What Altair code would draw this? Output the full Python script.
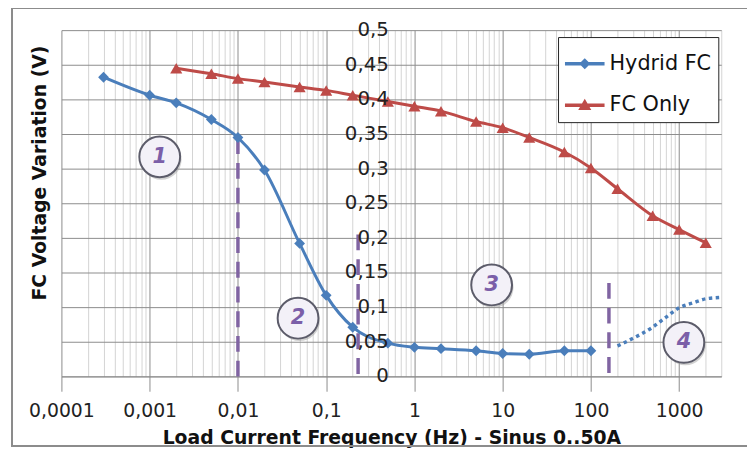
import altair as alt
import pandas as pd

# ---------------- data ----------------
series_names = ["Hydrid FC", "FC Only"]
series_colors = ["#4A7EBB", "#BE4B48"]

hyb_x = [0.0003, 0.001, 0.002, 0.005, 0.01, 0.02, 0.05, 0.1, 0.2, 0.5, 1, 2, 5, 10, 20, 50, 100]
hyb_y = [0.432, 0.406, 0.395, 0.371, 0.345, 0.298, 0.192, 0.117, 0.071, 0.048, 0.042, 0.040, 0.037,
         0.033, 0.032, 0.037, 0.037]

fc_x = [0.002, 0.005, 0.01, 0.02, 0.05, 0.1, 0.2, 0.5, 1, 2, 5, 10, 20, 50, 100, 200, 500, 1000, 2000]
fc_y = [0.445, 0.437, 0.430, 0.425, 0.418, 0.413, 0.406, 0.397, 0.390, 0.383, 0.368, 0.359, 0.345,
        0.324, 0.301, 0.271, 0.232, 0.212, 0.193]

ext_x = [200, 300, 500, 700, 1000, 1500, 2000, 3000]
ext_y = [0.044, 0.055, 0.071, 0.085, 0.099, 0.107, 0.112, 0.114]

zone_line_x = [0.01, 0.23, 160]
zone_line_top = [0.344, 0.205, 0.135]

zone_num = ["1", "2", "3", "4"]
zone_x = [0.0013, 0.048, 7.5, 1130]
zone_y = [0.317, 0.084, 0.132, 0.049]

x_decades = [0.0001, 0.001, 0.01, 0.1, 1, 10, 100, 1000]
x_decade_labels = ["0,0001", "0,001", "0,01", "0,1", "1", "10", "100", "1000"]
x_minor = [float(f"{k}e{d}") for d in range(-4, 4) for k in range(1, 10) if float(f"{k}e{d}") <= 3000]

y_ticks = [0, 0.05, 0.1, 0.15, 0.2, 0.25, 0.3, 0.35, 0.4, 0.45, 0.5]
y_tick_labels = ["0", "0,05", "0,1", "0,15", "0,2", "0,25", "0,3", "0,35", "0,4", "0,45", "0,5"]

x_title = "Load Current Frequency (Hz) - Sinus 0..50A"
y_title = "FC Voltage Variation (V)"

# ---------------- tables ----------------
df_main = pd.concat([
    pd.DataFrame({"series": series_names[0], "x": hyb_x, "y": hyb_y}),
    pd.DataFrame({"series": series_names[1], "x": fc_x, "y": fc_y}),
], ignore_index=True)
df_ext = pd.DataFrame({"x": ext_x, "y": ext_y})
df_vl = pd.DataFrame({"x": zone_line_x, "y": zone_line_top, "bottom": [0] * len(zone_line_x)})
df_zone = pd.DataFrame({"x": zone_x, "y": zone_y, "n": zone_num})
df_yt = pd.DataFrame({"y": y_ticks, "lab": y_tick_labels})
df_leg = pd.DataFrame({"series": series_names, "x": [1, 1], "y": [0.1, 0.1]})

FONT = "DejaVu Sans"
W, H = 667, 350

xscale = alt.Scale(type="log", domain=[0.0001, 3000], nice=False)
yscale = alt.Scale(domain=[0, 0.5], nice=False)
cscale = alt.Scale(domain=series_names, range=series_colors)

dec_list = "[" + ",".join(repr(v) for v in x_decades) + "]"
is_dec = f"indexof({dec_list}, datum.value) >= 0"
label_expr = " : ".join(f"datum.value == {v!r} ? '{l}'" for v, l in zip(x_decades, x_decade_labels)) + " : ''"

x_axis = alt.Axis(
    values=x_minor, grid=True,
    gridColor={"condition": {"test": is_dec, "value": "#8c8c8c"}, "value": "#d3d3d3"},
    tickColor={"condition": {"test": is_dec, "value": "#8c8c8c"}, "value": "transparent"},
    tickSize=15, labelExpr=label_expr, labelOverlap=False, labelFlush=False,
    labelFont=FONT, labelFontSize=19, labelColor="#222222", labelPadding=11,
    domainColor="#8c8c8c",
    title=x_title, titleFont=FONT, titleFontSize=19, titleFontWeight="bold",
    titleColor="#111111", titlePadding=8,
)
y_axis = alt.Axis(
    values=y_ticks, grid=True, gridColor="#8c8c8c", labels=False, ticks=False, domain=False,
    title=y_title, titleFont=FONT, titleFontSize=19, titleFontWeight="bold", titleColor="#111111",
    titlePadding=12, titleY=144,
)

leg_paths = [
    "M-1,-0.09H1V0.09H-1Z M0,-0.28L0.28,0L0,0.28L-0.28,0Z",
    "M-1,-0.09H1V0.09H-1Z M0,-0.33L0.33,0.24L-0.33,0.24Z",
]
legend_def = alt.Legend(
    title=None, orient="none", legendX=502, legendY=7, direction="vertical",
    strokeColor="#222222", fillColor="white", padding=7, rowPadding=12,
    symbolSize=1600, symbolStrokeWidth=0, labelFont=FONT, labelFontSize=21, labelColor="#111111",
    labelOffset=5, cornerRadius=0,
)


def X(field="x:Q"):
    return alt.X(field, scale=xscale, axis=x_axis)


def Y(field="y:Q"):
    return alt.Y(field, scale=yscale, axis=y_axis)


def C():
    return alt.Color("series:N", scale=cscale, legend=legend_def)


# grid / axes carrier
base = alt.Chart(df_main).mark_point(opacity=0).encode(x=X(), y=Y())

vlines = alt.Chart(df_vl).mark_rule(color="#8064A2", strokeWidth=3.5, strokeDash=[16, 9]).encode(
    x=X(), y=Y(), y2="bottom:Q",
)

lines = alt.Chart(df_main).mark_line(strokeWidth=3, interpolate="monotone").encode(
    x=X(), y=Y(), color=C(), detail="series:N",
)

ext = alt.Chart(df_ext).mark_line(strokeWidth=3.5, strokeDash=[3.5, 3.5], interpolate="monotone",
                                  color="#4A7EBB").encode(x=X(), y=Y())

pts_h = alt.Chart(df_main).transform_filter(alt.datum.series == series_names[0]).mark_point(
    shape="diamond", filled=True, size=120, opacity=1).encode(x=X(), y=Y(), color=C())
pts_f = alt.Chart(df_main).transform_filter(alt.datum.series == series_names[1]).mark_point(
    shape="triangle-up", filled=True, size=150, opacity=1).encode(x=X(), y=Y(), color=C())

zone_shadow = alt.Chart(df_zone).mark_point(shape="circle", filled=True, size=1700, color="#9a9a9a",
                                            opacity=0.45, xOffset=1.5, yOffset=2.5).encode(x=X(), y=Y())
zone_circle = alt.Chart(df_zone).mark_point(shape="circle", filled=True, size=1700, fill="#f3f1f8",
                                            stroke="#5c5c6a", strokeWidth=2, opacity=1).encode(x=X(), y=Y())
zone_text = alt.Chart(df_zone).mark_text(font=FONT, fontSize=21, fontWeight="bold", fontStyle="italic",
                                         color="#7b5fa8", baseline="middle", align="center").encode(
    x=X(), y=Y(), text="n:N",
)

ylabels = alt.Chart(df_yt).mark_text(font=FONT, fontSize=20, color="#222222", align="right",
                                     baseline="middle", dx=1).encode(
    x=alt.X(datum=0.5, type="quantitative", scale=xscale, axis=x_axis),
    y=Y(),
    text="lab:N",
)

legend_layer = alt.Chart(df_leg).transform_filter("false").mark_point(filled=True, opacity=1).encode(
    x=X(), y=Y(), color=C(),
    shape=alt.Shape("series:N", scale=alt.Scale(domain=series_names, range=leg_paths), legend=legend_def),
)

frame = alt.Chart(df_yt).mark_rect(fillOpacity=0, stroke="#8c8c8c", strokeWidth=1.5).encode(
    x=alt.value(-50), x2=alt.value(W + 80), y=alt.value(-22), y2=alt.value(H + 70),
)

chart = alt.layer(
    base, frame, vlines, lines, ext, pts_h, pts_f, zone_shadow, zone_circle, zone_text, ylabels, legend_layer
).properties(
    width=W, height=H, autosize="none",
    padding={"left": 54, "top": 20, "right": 26, "bottom": 70},
    background="white",
).configure_view(stroke="transparent")

chart.save("out.html", embed_options={"renderer": "svg", "actions": False})
